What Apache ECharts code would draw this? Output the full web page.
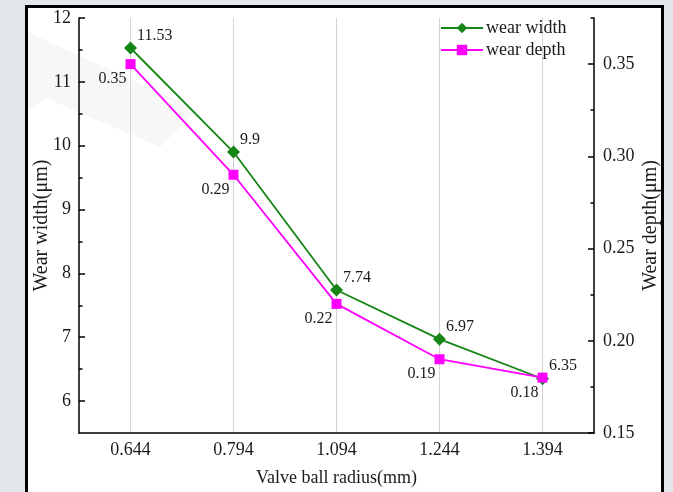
<!DOCTYPE html>
<html><head><meta charset="utf-8">
<script src="https://cdn.jsdelivr.net/npm/echarts@6/dist/echarts.min.js"></script>
<style>
html,body{margin:0;padding:0;width:673px;height:492px;overflow:hidden;background:#e3e6ea;}
#frame{position:absolute;left:25px;top:5px;width:639px;height:500px;box-sizing:border-box;border:3px solid #000;background:#fff;}
#chart{position:absolute;left:0;top:0;width:673px;height:492px;}
</style></head>
<body><div id="frame"></div><div id="chart"></div>
<script>
const categories = ['0.644', '0.794', '1.094', '1.244', '1.394'];
const wearWidth = [11.53, 9.9, 7.74, 6.97, 6.35];
const wearDepth = [0.35, 0.29, 0.22, 0.19, 0.18];
const leftTicks = [6, 7, 8, 9, 10, 11, 12];
const leftMinor = [6.5, 7.5, 8.5, 9.5, 10.5, 11.5];
const rightTicks = [0.15, 0.20, 0.25, 0.30, 0.35];
const rightMinor = [0.175, 0.225, 0.275, 0.325, 0.375];

const FONT = 'Liberation Serif';
const TXT = '#1a1a1a';
const GREEN = '#158515';
const PINK = '#ff00ff';

const chart = echarts.init(document.getElementById('chart'));
chart.setOption({
  animation: false,
  backgroundColor: 'transparent',
  textStyle: {fontFamily: FONT},
  graphic: [{
    type: 'polygon', z: -1, silent: true,
    shape: {points: [[28, 32], [198, 110], [160, 147], [45, 98], [28, 112]]},
    style: {fill: 'rgba(0,0,0,0.03)'}
  }],
  grid: {left: 79, right: 79, top: 18, bottom: 58},
  legend: {
    orient: 'vertical', left: 435, top: 14, itemWidth: 42, itemHeight: 13, itemGap: 4,
    textStyle: {fontFamily: FONT, fontSize: 18, color: TXT, padding: [0, 0, 0, -2]},
    data: ['wear width', 'wear depth']
  },
  xAxis: {
    type: 'category', data: categories, boundaryGap: true,
    name: 'Valve ball radius(mm)', nameLocation: 'middle', nameGap: 36, nameMoveOverlap: false,
    nameTextStyle: {fontFamily: FONT, fontSize: 18, color: TXT},
    axisLine: {lineStyle: {color: '#000', width: 1.5}},
    axisTick: {inside: true, alignWithLabel: true, length: 6, lineStyle: {color: '#000', width: 1.5}},
    axisLabel: {fontFamily: FONT, fontSize: 18, color: TXT, margin: 8},
    splitLine: {show: false}
  },
  yAxis: [{
    type: 'value', position: 'left', min: 5.5, max: 12,
    name: 'Wear width(μm)', nameLocation: 'middle', nameGap: 27, nameRotate: 90, nameMoveOverlap: false,
    nameTextStyle: {fontFamily: FONT, fontSize: 20, color: TXT},
    axisLine: {show: true, lineStyle: {color: '#000', width: 1.5}},
    axisTick: {show: true, inside: true, length: 6, customValues: leftTicks, lineStyle: {color: '#000', width: 1.5}},
    axisLabel: {fontFamily: FONT, fontSize: 18, color: TXT, margin: 8, customValues: leftTicks},
    splitLine: {show: false}
  }, {
    type: 'value', position: 'right', min: 0.15, max: 0.375,
    name: 'Wear depth(μm)', nameLocation: 'middle', nameGap: 47, nameRotate: 90, nameMoveOverlap: false,
    nameTextStyle: {fontFamily: FONT, fontSize: 20, color: TXT},
    axisLine: {show: true, lineStyle: {color: '#000', width: 1.5}},
    axisTick: {show: true, inside: true, length: 6, customValues: rightTicks, lineStyle: {color: '#000', width: 1.5}},
    axisLabel: {fontFamily: FONT, fontSize: 18, color: TXT, margin: 9, customValues: rightTicks,
      formatter: v => v.toFixed(2)},
    splitLine: {show: false}
  }, {
    type: 'value', position: 'left', offset: 0, min: 5.5, max: 12,
    axisLine: {show: false},
    axisTick: {show: true, inside: true, length: 3.5, customValues: leftMinor, lineStyle: {color: '#000', width: 1.5}},
    axisLabel: {show: false}, splitLine: {show: false}
  }, {
    type: 'value', position: 'right', offset: 0, min: 0.15, max: 0.375,
    axisLine: {show: false},
    axisTick: {show: true, inside: true, length: 3.5, customValues: rightMinor, lineStyle: {color: '#000', width: 1.5}},
    axisLabel: {show: false}, splitLine: {show: false}
  }],
  series: [{
    name: 'wear width', type: 'line', yAxisIndex: 0, data: wearWidth,
    symbol: 'diamond', symbolSize: 13, z: 3,
    itemStyle: {color: GREEN}, lineStyle: {color: GREEN, width: 1.8},
    label: {show: true, position: [13, -6], align: 'left', verticalAlign: 'middle',
      fontFamily: FONT, fontSize: 16, color: TXT},
    markLine: {
      silent: true, symbol: 'none', label: {show: false}, z: 0,
      lineStyle: {color: '#d4d4d4', width: 1, type: 'solid'},
      data: categories.map(c => ({xAxis: c}))
    }
  }, {
    name: 'wear depth', type: 'line', yAxisIndex: 1, data: wearDepth,
    symbol: 'rect', symbolSize: 10, z: 4,
    itemStyle: {color: PINK}, lineStyle: {color: PINK, width: 1.8},
    label: {show: true, position: [1, 20], align: 'right', verticalAlign: 'middle',
      fontFamily: FONT, fontSize: 16, color: TXT,
      formatter: p => p.value.toFixed(2)}
  }]
});
</script></body></html>
